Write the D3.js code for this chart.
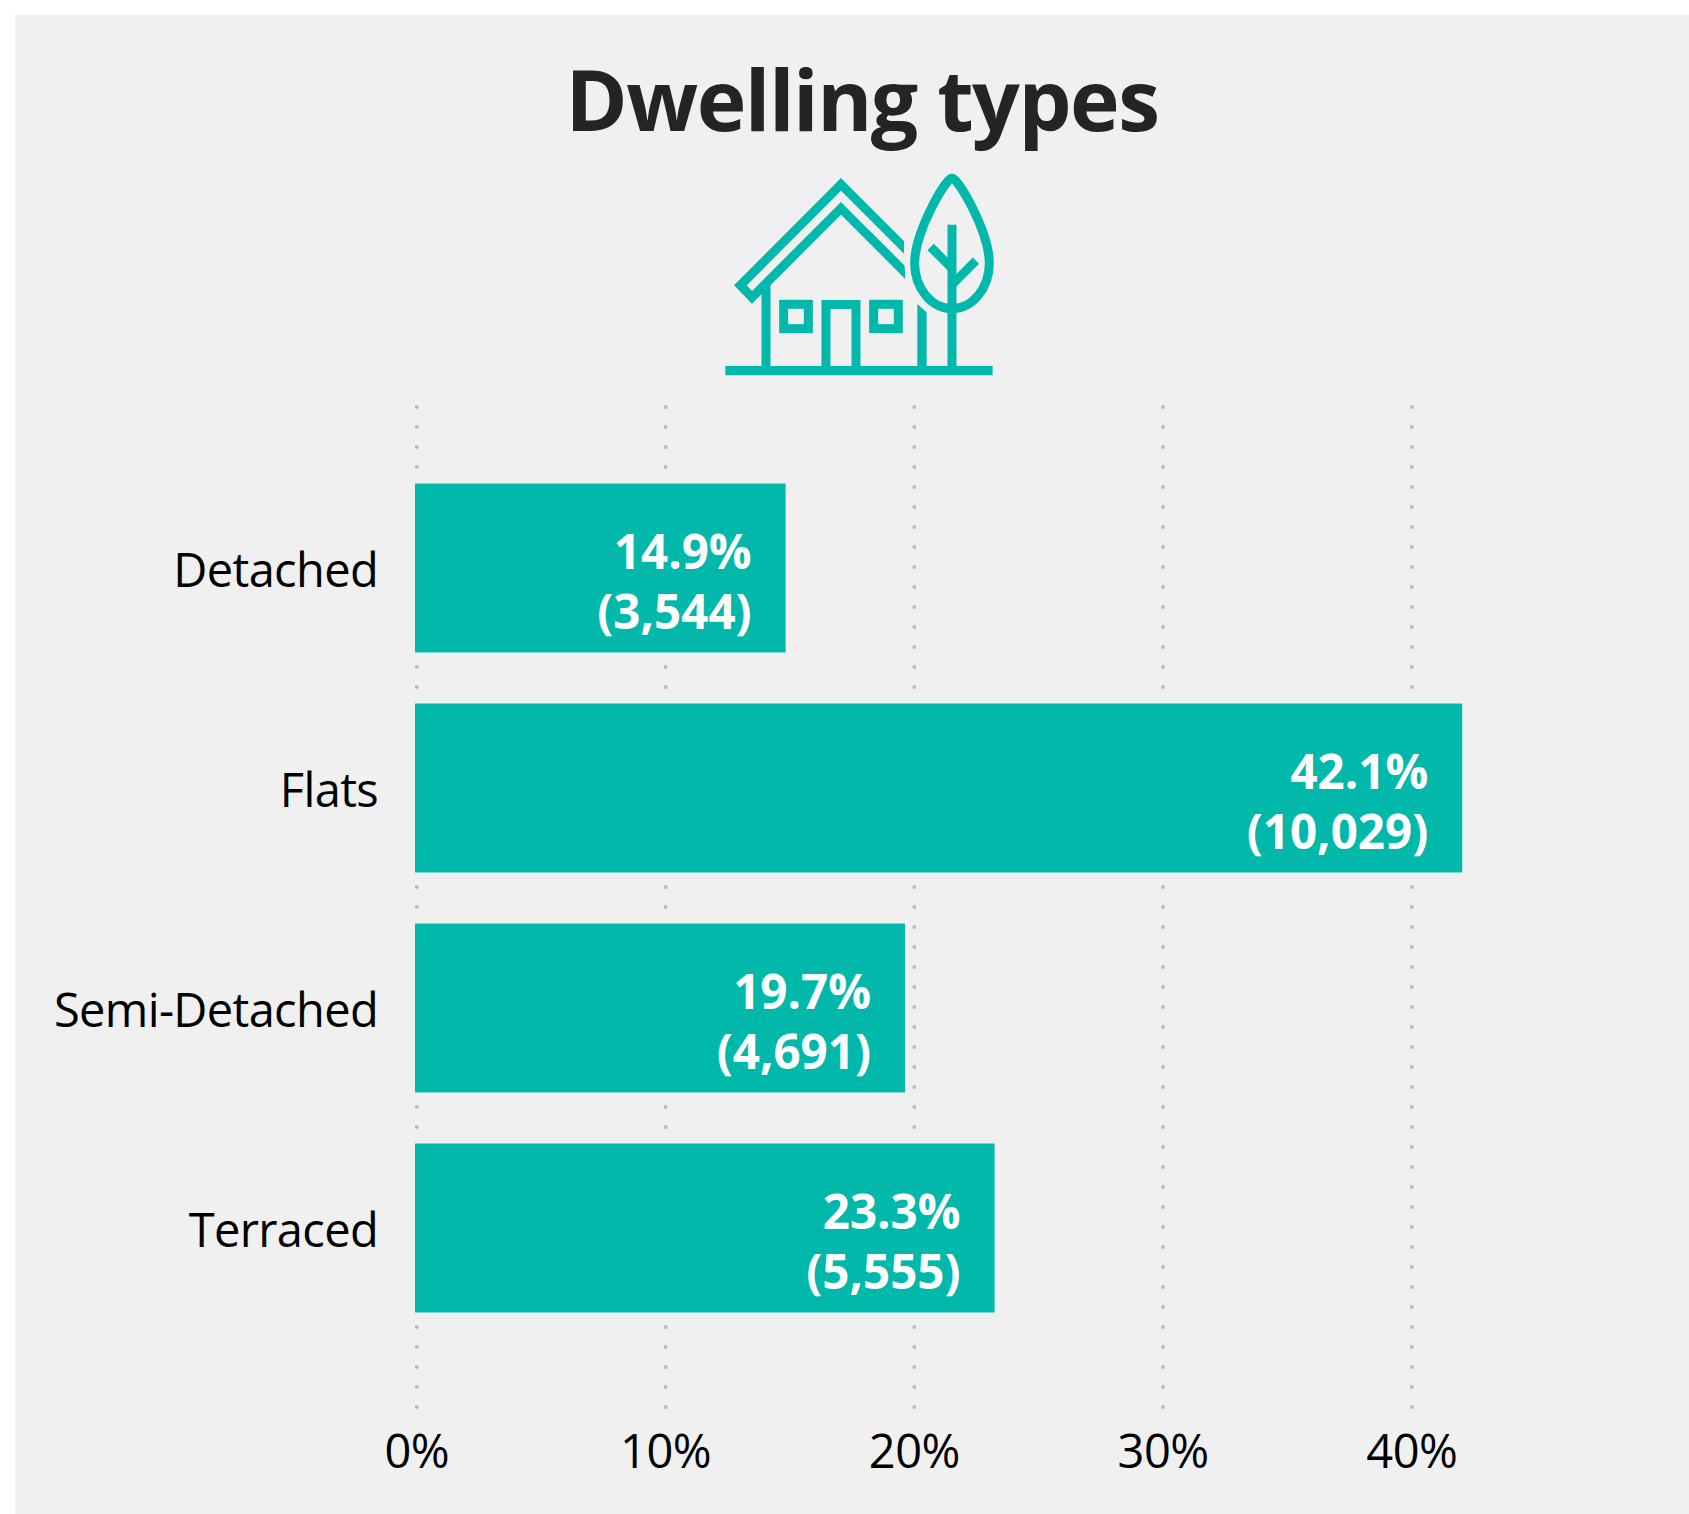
<!DOCTYPE html>
<html>
<head>
<meta charset="utf-8">
<script src="https://d3js.org/d3.v7.min.js"></script>
<style>
  html, body { margin: 0; padding: 0; background: #fff; }
  svg { display: block; }
  text { font-family: "Open Sans", sans-serif; }
  .tick text { fill: #000; font-size: 47px; letter-spacing: -0.5px; }
  .grid line { stroke: #bbb; stroke-width: 4; stroke-linecap: round; stroke-dasharray: 0 20; }
  .value-label { fill: #fff; font-size: 47.5px; font-weight: 700; text-anchor: end; }
  .title { fill: #252423; font-size: 84px; font-weight: 700; text-anchor: middle; letter-spacing: -1.5px; }
</style>
</head>
<body>
<div id="chart"></div>
<script>
const categories = ["Detached", "Flats", "Semi-Detached", "Terraced"];
const shares = [14.9, 42.1, 19.7, 23.3];
const counts = [3544, 10029, 4691, 5555];
const xTicks = [0, 10, 20, 30, 40];

const width = 1689;
const height = 1514;
const teal = "#01b8aa";

const svg = d3.select("#chart").append("svg")
  .attr("width", width)
  .attr("height", height);

svg.append("rect")
  .attr("x", 15).attr("y", 15)
  .attr("width", width - 15).attr("height", height - 15)
  .attr("fill", "#f0f0f0");

svg.append("text")
  .attr("class", "title")
  .attr("x", 862).attr("y", 131)
  .text("Dwelling types");

// house + tree icon, traced in a 3x grid
const icon = svg.append("g")
  .attr("transform", "translate(700,150) scale(0.3333)")
  .attr("fill", "none")
  .attr("stroke", teal)
  .attr("stroke-width", 27);

icon.append("clipPath").attr("id", "roof-clip")
  .append("path").attr("d", "M0 0H620L612 300L616 390L0 700Z");
icon.append("path")
  .attr("clip-path", "url(#roof-clip)")
  .attr("d", "M680 360L423 103L121 406L156 442L423 175L680 432");
icon.append("path").attr("d", "M198 395V662");
icon.append("path").attr("d", "M378 662V463.5H468V662");
icon.append("rect").attr("x", 251).attr("y", 463).attr("width", 74).attr("height", 73);
icon.append("rect").attr("x", 521).attr("y", 463).attr("width", 74).attr("height", 73);
icon.append("path").attr("stroke", "none").attr("fill", teal)
  .attr("d", "M652 662V462L680 487V662Z");
icon.append("path")
  .attr("d", "M756 84C738 84 644 245 644 340C644 415 695 476 756 476C817 476 868 415 868 340C868 245 774 84 756 84Z");
icon.append("path").attr("d", "M756 224V662");
icon.append("path").attr("d", "M692 291L756 355");
icon.append("path").attr("d", "M828 332L756 404");
icon.append("path").attr("d", "M76 662H878").attr("stroke-width", 28);

const x = d3.scaleLinear().domain([0, 40]).range([415, 1410]);
const y = d3.scaleBand().domain(categories).range([458, 1338])
  .paddingInner(0.232).paddingOuter(0.116);

const rows = categories.map((name, i) => ({ name, share: shares[i], count: counts[i] }));

// gridlines sit 2px right of the bar origin in the original
const xAxis = svg.append("g")
  .attr("class", "grid")
  .attr("transform", "translate(1.8,1407)")
  .call(d3.axisBottom(x).offset(0).tickValues(xTicks).tickSize(-1001).tickPadding(61).tickFormat((d) => `${d}%`));
xAxis.select(".domain").remove();
xAxis.selectAll("text").attr("dy", 0);

svg.selectAll(".bar")
  .data(rows)
  .join("rect")
  .attr("class", "bar")
  .attr("x", x(0))
  .attr("y", (d) => y(d.name))
  .attr("width", (d) => x(d.share) - x(0))
  .attr("height", y.bandwidth())
  .attr("fill", teal);

const yAxis = svg.append("g")
  .attr("transform", `translate(${x(0)},0)`)
  .call(d3.axisLeft(y).offset(0).tickSize(0).tickPadding(37));
yAxis.select(".domain").remove();
yAxis.selectAll("text").attr("dy", "0.4em").style("letter-spacing", "-0.65px");

const labels = svg.selectAll(".value")
  .data(rows)
  .join("g")
  .attr("class", "value")
  .attr("transform", (d) => `translate(${x(d.share) - 34},${y(d.name)})`);

labels.append("text")
  .attr("class", "value-label")
  .attr("y", 85)
  .text((d) => `${d.share.toFixed(1)}%`);

labels.append("text")
  .attr("class", "value-label")
  .attr("y", 145)
  .text((d) => `(${d3.format(",")(d.count)})`);
</script>
</body>
</html>
